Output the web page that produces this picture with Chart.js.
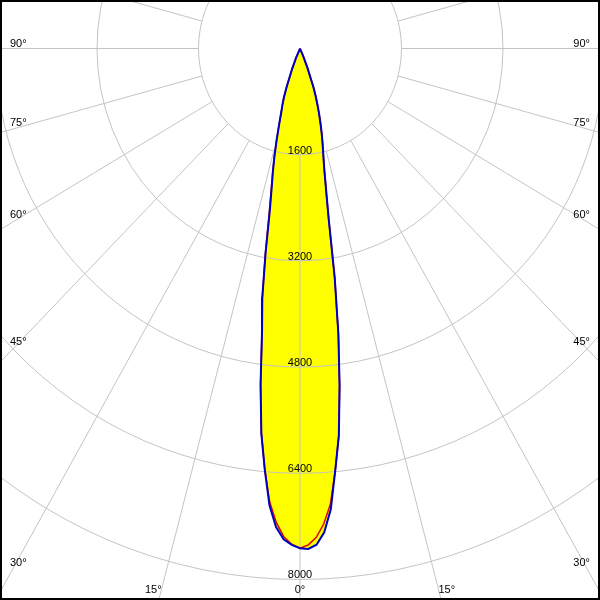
<!DOCTYPE html>
<html>
<head>
<meta charset="utf-8">
<script src="https://cdn.jsdelivr.net/npm/chart.js@4/dist/chart.umd.min.js"></script>
<style>
    html, body { margin: 0; padding: 0; background: #fff; }
    #wrap { width: 600px; height: 600px; }
</style>
</head>
<body>
<div id="wrap"><canvas id="ldc" width="600" height="600"></canvas></div>
<script>
'use strict';

// gamma angles (deg, 0 = straight down, negative = left half plane)
var gammaDeg = [-26, -24, -22, -20, -19, -18, -17, -16, -15, -14, -13, -12, -11, -10, -9, -8, -7, -6, -5, -4, -3, -2, -1,
    0, 1, 2, 3, 4, 5, 6, 7, 8, 9, 10, 11, 12, 13, 14, 15, 16, 17, 18, 19, 20, 22, 24, 26];

// luminous intensity, C0-C180 plane (red)
var planeC0 = [0, 150, 330, 620, 780, 900, 1020, 1200, 1420, 1660, 1910, 2180, 2560, 3150, 3800, 4300, 5100, 5830, 6370, 6850, 7150, 7360, 7470,
    7530, 7480, 7370, 7170, 6880, 6380, 5860, 5120, 4350, 3500, 2600, 2140, 1830, 1630, 1470, 1320, 1170, 1030, 890, 760, 620, 310, 120, 0];

// luminous intensity, C90-C270 plane (blue)
var planeC90 = [0, 150, 330, 620, 780, 900, 1020, 1200, 1420, 1660, 1900, 2150, 2500, 3120, 3800, 4300, 5100, 5830, 6370, 6900, 7220, 7400, 7480,
    7530, 7540, 7480, 7300, 6960, 6380, 5860, 5120, 4350, 3500, 2600, 2140, 1830, 1630, 1470, 1320, 1170, 1030, 890, 760, 620, 310, 120, 0];

var ringValues = [1600, 3200, 4800, 6400, 8000, 9600, 11200];
var angleTicks = [0, 15, 30, 45, 60, 75, 90];

function toXY(angles, values) {
    var pts = [];
    for (var i = 0; i < angles.length; i++) {
        var a = angles[i] * Math.PI / 180;
        pts.push({ x: values[i] * Math.sin(a), y: -values[i] * Math.cos(a) });
    }
    return pts;
}

var polarGrid = {
    id: 'polarGrid',
    beforeDatasetsDraw: function(chart) {
        var ctx = chart.ctx;
        var xs = chart.scales.x, ys = chart.scales.y;
        var area = chart.chartArea;
        var cx = xs.getPixelForValue(0), cy = ys.getPixelForValue(0);
        var px = function(r, deg) {
            var a = deg * Math.PI / 180;
            return [xs.getPixelForValue(r * Math.sin(a)), ys.getPixelForValue(-r * Math.cos(a))];
        };

        ctx.save();
        ctx.beginPath();
        ctx.rect(area.left, area.top, area.right - area.left, area.bottom - area.top);
        ctx.clip();
        ctx.strokeStyle = '#c4c4c4';
        ctx.lineWidth = 1;

        // rings
        ringValues.forEach(function(r) {
            var rx = xs.getPixelForValue(r) - cx;
            var ry = cy - ys.getPixelForValue(r);
            ctx.beginPath();
            ctx.ellipse(cx, cy, rx, ry, 0, 0, Math.PI * 2);
            ctx.stroke();
        });

        // spokes every 15 deg, starting at the first ring
        for (var d = -180; d < 180; d += 15) {
            var p0 = px(ringValues[0], d), p1 = px(30000, d);
            ctx.beginPath();
            ctx.moveTo(p0[0], p0[1]);
            ctx.lineTo(p1[0], p1[1]);
            ctx.stroke();
        }

        ctx.fillStyle = '#000';
        ctx.font = '11px "Liberation Sans", Arial, sans-serif';

        // ring values along the 0 deg axis
        ctx.textAlign = 'center';
        ctx.textBaseline = 'alphabetic';
        ringValues.slice(0, 5).forEach(function(r) {
            ctx.fillText(String(r), cx, ys.getPixelForValue(-r) - 1);
        });

        // angle labels where the spokes leave the frame
        var W = area.right, H = area.bottom;
        angleTicks.forEach(function(g) {
            [-1, 1].forEach(function(side) {
                if (g === 0 && side === 1) return;
                var a = g * Math.PI / 180;
                var dx = side * Math.sin(a) * (xs.getPixelForValue(1000) - cx);
                var dy = Math.cos(a) * (ys.getPixelForValue(-1000) - cy);
                var txt = g + '\u00b0';
                var tSide = dx === 0 ? Infinity : ((side < 0 ? 0 : W) - cx) / dx;
                var tBot = dy === 0 ? Infinity : (H - cy) / dy;
                if (tSide < tBot) {
                    var xl = side < 0 ? 10 : W - 10;
                    var yl = cy + dy * ((xl - cx) / dx);
                    ctx.textAlign = side < 0 ? 'left' : 'right';
                    ctx.fillText(txt, xl, yl - (1.5 + 7.5 * Math.cos(a)));
                } else {
                    var yb = H - 7;
                    var xb = cx + dx * ((yb - cy) / dy);
                    ctx.textAlign = g === 0 ? 'center' : (side < 0 ? 'right' : 'left');
                    ctx.fillText(txt, xb + (g === 0 ? 0 : side * -1), yb);
                }
            });
        });
        ctx.restore();
    },
    afterDraw: function(chart) {
        var ctx = chart.ctx;
        ctx.save();
        ctx.strokeStyle = '#000';
        ctx.lineWidth = 4;
        ctx.strokeRect(0, 0, chart.width, chart.height);
        ctx.restore();
    }
};

var ctx = document.getElementById('ldc').getContext('2d');
var chart = new Chart(ctx, {
    type: 'scatter',
    data: {
        datasets: [{
            label: 'C90 - C270',
            data: toXY(gammaDeg, planeC90),
            showLine: true,
            borderColor: '#0000c0',
            borderWidth: 2,
            backgroundColor: '#ffff00',
            fill: 'shape',
            pointRadius: 0,
            tension: 0,
            order: 0
        }, {
            label: 'C0 - C180',
            data: toXY(gammaDeg, planeC0),
            showLine: true,
            borderColor: '#e00000',
            borderWidth: 1.5,
            backgroundColor: '#ffff00',
            fill: 'shape',
            pointRadius: 0,
            tension: 0,
            order: 1
        }]
    },
    options: {
        responsive: false,
        animation: false,
        layout: { padding: 0 },
        scales: {
            x: { display: false, min: -4729, max: 4729 },
            y: { display: false, min: -8309, max: 731 }
        },
        plugins: {
            legend: { display: false },
            tooltip: { enabled: false },
            filler: { drawTime: 'beforeDraw' }
        }
    },
    plugins: [polarGrid]
});
</script>
</body>
</html>
